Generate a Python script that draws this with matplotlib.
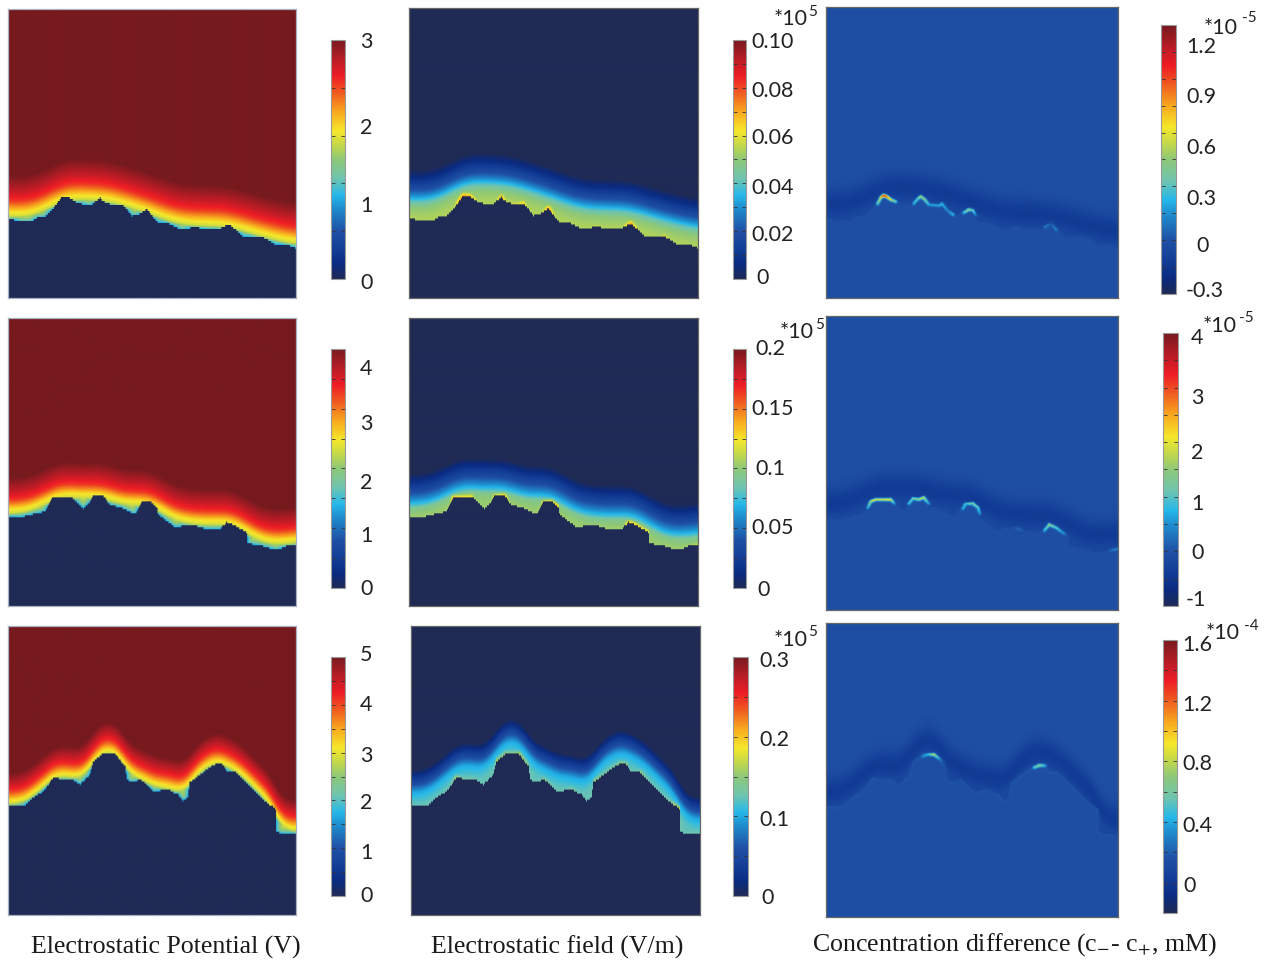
import numpy as np
import matplotlib
matplotlib.use("Agg")
import matplotlib.pyplot as plt
from matplotlib.colors import LinearSegmentedColormap

W, H = 1268, 963
N = 289

# electrode surface (reference pixels)
surf1_x = [8,20,30,37,45,53,62,68,77,90,100,105,115,122,132,138,147,157,167,182,195,210,220,229,243,257,263,275,287,296]
surf1_y = [218,222,222,218,217,208,196,197,203,206,198,203,205,204,216,215,209,222,223,230,227,230,229,224,236,238,237,244,245,248]
surf2_x = [8,20,33,45,52,70,83,90,92,103,110,120,135,142,150,157,158,175,182,197,207,220,227,233,247,248,263,277,287,296]
surf2_y = [517,518,515,512,498,497,509,503,497,496,506,508,515,503,502,508,515,528,527,527,530,530,523,525,533,544,547,551,547,545]
surf3_x = [8,23,33,43,53,58,72,80,90,93,103,115,125,127,132,140,147,153,168,178,183,188,190,207,217,223,227,237,253,267,276,276.5,283,296]
surf3_y = [807,807,798,792,778,779,780,785,775,762,754,754,767,780,783,780,785,792,790,795,801,798,783,770,764,765,772,773,790,803,809,832,834,834]
surf_x = [surf1_x, surf2_x, surf3_x]
surf_y = [surf1_y, surf2_y, surf3_y]
surf_top = [9, 318, 626]

# profile of each field against distance from the surface (fraction of colour range)
pot_d = [[0,2,4,8,13,19,28,44], [0,2,4,8,12,17,25,39], [0,2,4,7,11,16,23,34]]
pot_t = [[.32,.5,.58,.63,.72,.82,.9,1], [.32,.5,.58,.63,.72,.82,.9,1], [.32,.5,.58,.63,.72,.82,.9,1]]
efield_d = [[0,11,17,21,29,40,49], [0,8,12,17,25,36,43], [0,4,9,15,22,31,37]]
efield_t = [[.54,.5,.42,.34,.2,.08,0], [.52,.47,.38,.3,.18,.07,0], [.42,.4,.37,.33,.2,.08,0]]

# bright spots along the asperities, third column
hot1_x = [877,880,883,886,890,895,913,917,920,924,928,938,941,947,952,963,968,972,975,1044,1050,1055]
hot1_y = [203,197,195,196,199,201,203,198,196,199,204,205,203,210,214,212,209,210,215,226,222,229]
hot1_a = [.45,.6,.95,.8,.6,.45,.35,.45,.6,.55,.35,.35,.4,.3,.4,.4,.55,.5,.3,.3,.25,.3]
hot2_x = [867,870,875,882,890,894,908,912,918,923,928,962,965,972,977,979,1015,1020,1043,1048,1055,1063,1070,1110,1117]
hot2_y = [507,501,499,499,499,503,503,498,499,497,503,508,503,503,507,513,527,529,530,524,527,533,546,550,548]
hot2_a = [.35,.55,.6,.6,.6,.3,.4,.45,.5,.6,.35,.35,.4,.55,.5,.35,.25,.25,.35,.55,.45,.3,.2,.25,.3]
hot3_x = [922,927,933,940,945,1033,1038,1044]
hot3_y = [756,754,754,759,765,767,765,765]
hot3_a = [.3,.35,.55,.3,.2,.4,.5,.35]
hot_x = [hot1_x, hot2_x, hot3_x]
hot_y = [hot1_y, hot2_y, hot3_y]
hot_a = [hot1_a, hot2_a, hot3_a]

# colour bar ranges
bar_min = [[0,0,-0.3], [0,0,-1], [0,0,-0.1]]
bar_max = [[3,0.1,1.3], [4.5,0.2,4.1], [5,0.3,1.6]]
bar_ticks = [[5,10,10], [8,8,10], [10,6,9]]

# tick labels
lab = [
    [["3","2","1","0"], ["0.10","0.08","0.06","0.04","0.02","0"], ["1.2","0.9","0.6","0.3","0","-0.3"]],
    [["4","3","2","1","0"], ["0.2","0.15","0.1","0.05","0"], ["4","3","2","1","0","-1"]],
    [["5","4","3","2","1","0"], ["0.3","0.2","0.1","0"], ["1.6","1.2","0.8","0.4","0"]],
]
lab_x = [
    [[360]*4, [751,751,751,751,751,756], [1186,1186,1186,1186,1196,1186]],
    [[360]*5, [755,751,755,751,757], [1191,1191,1191,1191,1191,1186]],
    [[360]*6, [759,759,759,761], [1182,1182,1182,1182,1183]],
]
lab_y = [
    [[42,128,206,283], [42,91,138,188,235,278], [47,97,148,199,246,291]],
    [[369,424,483,536,589], [349,409,469,528,590], [338,398,453,504,553,600]],
    [[655,705,756,803,853,896], [661,740,820,898], [645,705,764,826,886]],
]

# scale notes next to the bars
note_x = [774,780,774,1204,1203,1206]
note_y = [19,332,640,28,326,633]
exp_text = ["5","5","5","-5","-5","-4"]
exp_x = [808,815,808,1242,1239,1244]
exp_y = [12,325,632,18,318,626]

titles = ["Electrostatic Potential (V)", "Electrostatic field (V/m)",
          "Concentration difference (c$_{-}$- c$_{+}$, mM)"]
title_x = [166,557,1014]
title_y = [947,947,945]

# panel and bar boxes: left, top, right, bottom in pixels
panels = [
    [(8,9,296,298), (409,8,698,298), (826,7,1118,298)],
    [(8,318,296,606), (409,318,698,606), (826,316,1118,610)],
    [(8,626,296,915), (411,626,700,915), (826,623,1118,917)],
]
bars = [
    [(331,40,345,279), (733,40,746,279), (1161,25,1176,294)],
    [(331,349,345,588), (733,349,746,588), (1163,333,1178,606)],
    [(331,657,345,896), (733,657,748,896), (1163,640,1177,913)],
]
edge = ["#a8b0c0", "#666666", "#666666"]

jet_pos = [0,.06,.12,.2,.3,.35,.42,.5,.56,.62,.7,.78,.85,.92,1]
jet_col = ["#1f2a55","#0a2a80","#123c96","#1f50a5","#1e8fd0","#25b8ea","#6ec4b0","#8ec878",
           "#c3d84a","#f5e72a","#f8a81e","#ef5a20","#ee1c25","#b81c26","#761a1e"]
cmap = LinearSegmentedColormap.from_list("comsol", list(zip(jet_pos, jet_col)), N=512)

plt.rcParams["font.family"] = "Lato"
plt.rcParams["mathtext.fontset"] = "stix"
fig = plt.figure(figsize=(W/100, H/100), dpi=100, facecolor="white")


def box(b):
    return fig.add_axes([b[0]/W, 1-b[3]/H, (b[2]-b[0])/W, (b[3]-b[1])/H])


def px_text(x, y, s, **kw):
    fig.text(x/W, 1-y/H, s, **kw)


def surface(row):
    # height of the surface per column, its smoothed form and distance to it
    x = np.array(surf_x[row], float) - 8
    y = np.array(surf_y[row], float) - surf_top[row]
    cols = np.arange(N)
    yi = np.interp(cols, x, y)
    k = np.arange(-50, 51)
    g = np.exp(-0.5*(k/[16,14,8][row])**2)
    g = g/g.sum()
    smooth = np.convolve(np.pad(yi, 50, mode="edge"), g, mode="valid")
    t = np.linspace(0, len(x)-1, 1600)
    ind = np.arange(len(x))
    sx, sy = np.interp(t, ind, x), np.interp(t, ind, y)
    yy = np.arange(N)
    dist = np.zeros((N, N))
    for c in cols:
        dx = (c-sx)[None, :]
        dy = yy[:, None]-sy[None, :]
        dist[:, c] = np.sqrt(dx*dx+dy*dy).min(axis=1)
    yg, xg = np.mgrid[0:N, 0:N]
    # rough steps as on the meshed surface
    above = yg < (np.round(yi/2)*2)[xg]
    deff = np.maximum(smooth[xg]-yg, 0.5*dist)
    peak = np.clip((smooth-yi)/6, 0, 1)[xg]
    return above, dist, deff, peak


def field(row, col, above, dist, deff, peak):
    if col == 0:
        t = np.interp(deff, pot_d[row], pot_t[row])
        return np.where(above, t, 0)
    if col == 1:
        t = np.interp(deff, efield_d[row], efield_t[row])
        t = t + 0.2*peak*np.exp(-(dist/2.5)**2)
        return np.where(above, t, 0)
    t = 0.195 - np.where(above, 0.08*np.exp(-((deff-15)/14)**2), 0)
    if row == 2:
        t = t + 0.012*np.exp(-(dist/1.5)**2)
    b = panels[row][2]
    yg, xg = np.mgrid[0:N, 0:N]
    hx = (np.array(hot_x[row], float)-b[0])/(b[2]-b[0])*N
    hy = (np.array(hot_y[row], float)-b[1])/(b[3]-b[1])*N
    ha = np.array(hot_a[row])
    add = np.zeros((N, N))
    for i in range(len(hx)):
        # spots close together run into one arc
        steps = [(hx[i], hy[i], ha[i])]
        if i+1 < len(hx) and np.hypot(hx[i+1]-hx[i], hy[i+1]-hy[i]) < 10:
            for f in np.linspace(0, 1, 8)[1:-1]:
                steps.append((hx[i]+f*(hx[i+1]-hx[i]), hy[i]+f*(hy[i+1]-hy[i]), ha[i]+f*(ha[i+1]-ha[i])))
        for cx, cy, a in steps:
            add = np.maximum(add, (a-0.2)*np.exp(-((xg-cx)**2+(yg-cy)**2)/2.5))
    return t + add


for row in range(3):
    above, dist, deff, peak = surface(row)
    for col in range(3):
        vmin, vmax = bar_min[row][col], bar_max[row][col]
        ax = box(panels[row][col])
        data = vmin + field(row, col, above, dist, deff, peak)*(vmax-vmin)
        im = ax.imshow(data, cmap=cmap, vmin=vmin, vmax=vmax, aspect="auto", interpolation="bilinear")
        ax.set_xticks([])
        ax.set_yticks([])
        for s in ax.spines.values():
            s.set_color(edge[col])
            s.set_linewidth(0.9)

        cax = box(bars[row][col])
        cb = fig.colorbar(im, cax=cax)
        cb.set_ticks(np.linspace(vmin, vmax, bar_ticks[row][col]+1)[1:-1])
        cb.minorticks_off()
        cax.tick_params(left=True, right=True, labelleft=False, labelright=False,
                        direction="in", length=3, width=0.6, color="#333333")
        cb.outline.set_edgecolor("#999999")
        cb.outline.set_linewidth(0.8)

        for s, x, y in zip(lab[row][col], lab_x[row][col], lab_y[row][col]):
            px_text(x, y, s, fontsize=15.5, color="#222222", ha="left", va="center")

for x, y, s, ex, ey in zip(note_x, note_y, exp_text, exp_x, exp_y):
    px_text(x, y, "*10", fontsize=15.5, color="#222222", ha="left", va="center")
    px_text(ex, ey, s, fontsize=11, color="#222222", ha="left", va="center")

for s, x, y in zip(titles, title_x, title_y):
    px_text(x, y, s, fontsize=18.6, family="Liberation Serif", color="#1a1a1a", ha="center", va="center")

fig.savefig("out.png", dpi=100)
